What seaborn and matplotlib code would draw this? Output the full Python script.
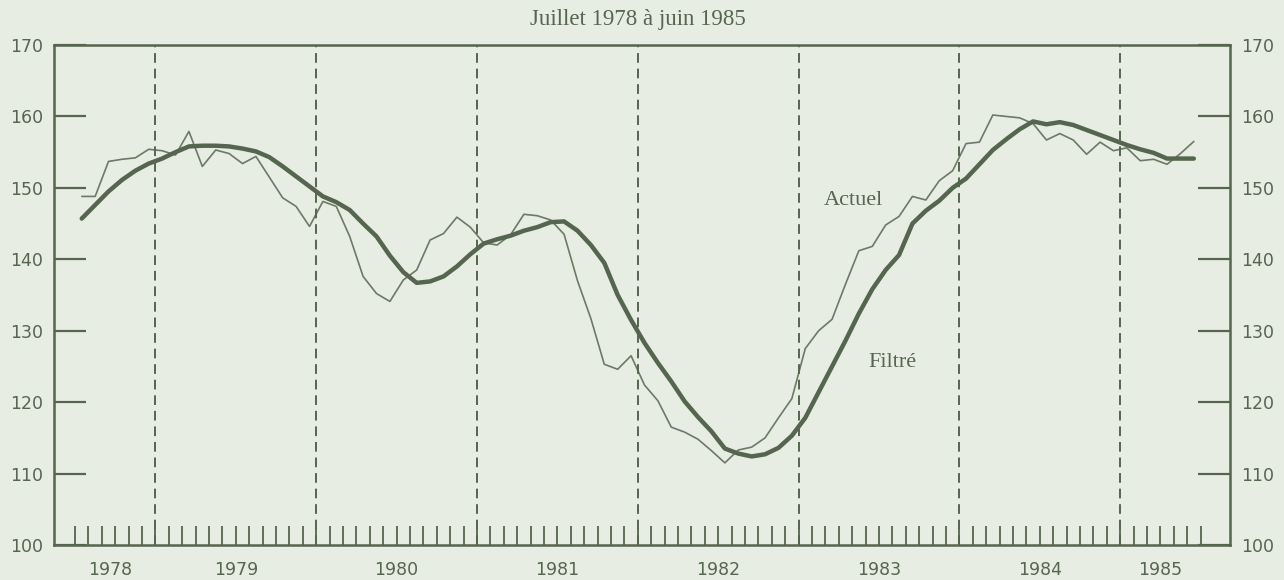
import numpy as np
import pandas as pd
import matplotlib
matplotlib.use("Agg")
import matplotlib.pyplot as plt
import matplotlib.transforms as mtransforms
import seaborn as sns

# ---- data: monthly values, July 1978 .. June 1985 ----
title = "Juillet 1978 à juin 1985"
years = [1978, 1979, 1980, 1981, 1982, 1983, 1984, 1985]
actuel = [148.8, 148.8, 153.7, 154.0, 154.2, 155.4, 155.2, 154.6, 157.9, 153.0,
          155.3, 154.8, 153.4, 154.4, 151.5, 148.6, 147.4, 144.6, 148.1, 147.4,
          143.2, 137.6, 135.2, 134.1, 137.1, 138.5, 142.7, 143.6, 145.9, 144.5,
          142.3, 142.0, 143.4, 146.3, 146.1, 145.5, 143.5, 137.0, 131.7, 125.3,
          124.6, 126.5, 122.4, 120.2, 116.5, 115.8, 114.8, 113.2, 111.5, 113.3,
          113.7, 115.0, 117.8, 120.5, 127.5, 130.0, 131.6, 136.5, 141.2, 141.8,
          144.8, 146.0, 148.8, 148.3, 151.0, 152.4, 156.2, 156.4, 160.2, 160.0,
          159.8, 159.0, 156.7, 157.6, 156.7, 154.7, 156.4, 155.2, 155.6, 153.8,
          154.0, 153.3, 154.8, 156.5]
filtre = [145.7, 147.6, 149.5, 151.1, 152.4, 153.4, 154.1, 155.0, 155.8, 155.9,
          155.9, 155.8, 155.5, 155.1, 154.3, 153.0, 151.6, 150.2, 148.8, 148.0,
          146.9, 145.0, 143.2, 140.5, 138.2, 136.7, 136.9, 137.6, 139.0, 140.7,
          142.2, 142.8, 143.3, 144.0, 144.5, 145.2, 145.3, 144.0, 142.0, 139.5,
          135.0, 131.5, 128.3, 125.5, 122.9, 120.1, 117.9, 115.9, 113.5, 112.8,
          112.4, 112.7, 113.6, 115.3, 117.8, 121.4, 125.0, 128.6, 132.4, 135.8,
          138.5, 140.6, 145.0, 146.8, 148.2, 150.0, 151.3, 153.3, 155.3, 156.8,
          158.2, 159.3, 158.9, 159.2, 158.8, 158.1, 157.4, 156.7, 156.0, 155.4,
          154.9, 154.1, 154.1, 154.1]
yticks = [100, 110, 120, 130, 140, 150, 160, 170]

BG = "#e7ede3"
INK = "#56654f"

sns.set_theme(style="white")
plt.rcParams["font.family"] = ["DejaVu Sans"]

month_pos = np.arange(len(actuel)) + 0.5  # mid-month, 0 = start of July 1978
df = pd.DataFrame({"t": month_pos, "Actuel": actuel, "Filtré": filtre})

fig = plt.figure(figsize=(12.84, 5.80), dpi=100, facecolor=BG)
ax = fig.add_axes([54 / 1284, 1 - 545 / 580, (1230 - 54) / 1284, (545 - 45) / 580])
ax.set_facecolor(BG)

sns.lineplot(data=df, x="t", y="Actuel", ax=ax, color=INK, lw=1.2, alpha=0.85)
sns.lineplot(data=df, x="t", y="Filtré", ax=ax, color=INK, lw=3.2)

# year boundary dashed lines (January of each year)
year_bounds = [6 + 12 * k for k in range(7)]
for xb in year_bounds:
    ax.axvline(xb, color=INK, lw=1.4, ls=(0, (5, 3)))

ax.set_xlim(-1.57, 86.2)
ax.set_ylim(100, 170)

# monthly ticks
ax.set_xticks(np.arange(0, 85))
ax.set_xticklabels([])
ax.tick_params(axis="x", which="major", direction="in", length=14, width=1.3,
               color=INK, bottom=True, top=False)

# year labels at year centers
year_centers = [2.6] + [12 + 12 * k for k in range(6)] + [81]
trans = mtransforms.blended_transform_factory(ax.transData, ax.transAxes)
for xc, yr in zip(year_centers, years):
    ax.text(xc, -0.05, str(yr), transform=trans, ha="center", va="center",
            fontsize=12.5, color=INK)

ax.set_yticks(yticks)
ax.set_yticklabels([str(v) for v in yticks])
ax.tick_params(axis="y", direction="in", length=23, width=1.6, color=INK,
               left=True, right=True, labelleft=True, labelright=True,
               labelsize=12.5, labelcolor=INK, pad=8)

for s in ax.spines.values():
    s.set_color(INK)
    s.set_linewidth(1.8)

ax.set_xlabel("")
ax.set_ylabel("")

fig.text(638 / 1284, 1 - 20 / 580, title, ha="center", va="center",
         family="Liberation Serif", fontsize=16.5, color=INK)
ax.text(58.1, 148.3, "Actuel", ha="center", va="center",
        family="Liberation Serif", fontsize=16, color=INK)
ax.text(61.0, 125.6, "Filtré", ha="center", va="center",
        family="Liberation Serif", fontsize=16, color=INK)

fig.savefig("out.png", dpi=100, facecolor=BG)
